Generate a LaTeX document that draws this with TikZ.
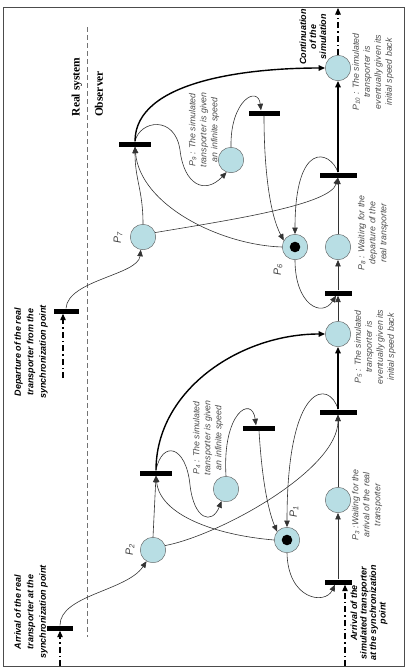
\documentclass[tikz,border=0pt]{standalone}
\usepackage{fontspec}
\setmainfont{Liberation Sans}
\newfontfamily\sidefont{Liberation Serif}
\usetikzlibrary{arrows.meta}
\definecolor{placeblue}{RGB}{184,222,228}
\newcommand{\Pn}[1]{P\textsubscript{#1}}

\begin{document}
\begin{tikzpicture}[x=1pt, y=-1pt,
    place/.style={circle, draw=black!65, fill=placeblue, minimum size=25.5pt, inner sep=0pt},
    marked/.style={path picture={\fill[black] (path picture bounding box.center) circle (5.3pt);}},
    trans/.style={fill=black, minimum width=32pt, minimum height=5pt, inner sep=0pt},
    flow/.style={-{Triangle[length=6.5pt, width=5.5pt]}, line width=0.6pt, draw=black!80},
    heavy/.style={flow, line width=1.4pt, draw=black},
    ext/.style={flow, line width=1.1pt, draw=black, dash pattern=on 6pt off 3pt on 1.5pt off 3pt},
    plabel/.style={rotate=90, font=\fontsize{8.8}{11}\selectfont\itshape, text=black!70, align=center, inner sep=0pt},
    event/.style={rotate=90, font=\fontsize{9}{12.5}\selectfont\bfseries\itshape, align=center, inner sep=0pt},
    pname/.style={rotate=90, font=\fontsize{10.5}{11}\selectfont\itshape, text=black!75, inner sep=0pt}
  ]
    \useasboundingbox (0,0) rectangle (406,667);
    \draw[black!70, line width=1pt] (3,7) rectangle (404.5,666);
    \draw[black!55, dash pattern=on 5pt off 3pt, line width=0.6pt] (87,27) -- (87,637);

    \node[rotate=90, font=\sidefont\fontsize{11.5}{12}\selectfont\bfseries] (real) at (77,87) {Real system};
    \node[rotate=90, font=\sidefont\fontsize{11.5}{12}\selectfont\bfseries] (obs) at (99,94) {Observer};

    \node[place] (p10) at (338,68) {};
    \node[place] (p9) at (231,160) {};
    \node[place] (p7) at (143,237) {};
    \node[place, marked] (p6) at (295,247) {};
    \node[place] (p8) at (338,247) {};
    \node[place] (p5) at (338,334) {};
    \node[place] (p4) at (226,489) {};
    \node[place] (p3) at (338,500) {};
    \node[place] (p2) at (153,550) {};
    \node[place, marked] (p1) at (287,540) {};

    \node[trans] (t9) at (135,144) {};
    \node[trans, minimum width=31pt] (t10) at (264,113) {};
    \node[trans, minimum width=37pt] (t11) at (338,175) {};
    \node[trans, minimum width=27pt] (t8) at (338,293) {};
    \node[trans, minimum width=25pt] (t7) at (66,311) {};
    \node[trans] (t4) at (156,473) {};
    \node[trans] (t5) at (259,428) {};
    \node[trans, minimum width=37pt] (t6) at (338,412) {};
    \node[trans, minimum width=27pt] (t3) at (338,582) {};
    \node[trans, minimum width=26pt] (t1) at (60,628) {};

    \coordinate (inreal) at (60,666);
    \coordinate (insim) at (345,666);
    \coordinate (indep) at (63,378);
    \coordinate (out) at (338,8);

    \node[pname] (n7) at (118,238) {\Pn{7}};
    \node[pname] (n6) at (278,270) {\Pn{6}};
    \node[pname] (n2) at (130,550) {\Pn{2}};
    \node[pname] (n1) at (294,512) {\Pn{1}};

    \node[plabel] (d10) at (373,72) {\Pn{10} : The simulated\\transporter is\\eventually given its\\initial speed back};
    \node[plabel] (d9) at (204,130) {\Pn{9} : The simulated\\transporter is given\\an infinite speed};
    \node[plabel] (d8) at (373,233) {\Pn{8} : Waiting for the\\departure of the\\real transporter};
    \node[plabel] (d5) at (375,347) {\Pn{5} : The simulated\\transporter is\\eventually given its\\initial speed back};
    \node[plabel] (d4) at (208,438) {\Pn{4} : The simulated\\transporter is given\\an infinite speed};
    \node[plabel] (d3) at (367,505) {\Pn{3} :Waiting for the\\arrival of the real\\transporter};

    \node[event, font=\fontsize{9}{10}\selectfont\bfseries\itshape] (cont) at (313,37) {Continuation\\of the\\simulation};
    \node[event] (dep) at (31,352) {Departure of the real\\transporter from the\\synchronization point};
    \node[event] (arrreal) at (31,612) {Arrival of the real\\transporter at the\\synchronization point};
    \node[event, font=\fontsize{9}{9.5}\selectfont\bfseries\itshape] (arrsim) at (369,613) {Arrival of the\\simulated transporter\\at the synchronization\\point};

    \draw[ext] (inreal) -- (t1.south);
    \draw[flow] (t1.north) .. controls (60,595) and (127,591) .. (p2.240);
    \draw[flow] (p2.north) -- (t4.south);
    \draw[flow] (p1.west) .. controls (215,535) and (160,515) .. (t4.south);
    \draw[flow] (t4.north) .. controls (162,440) and (186,445) .. (190,485) .. controls (194,520) and (212,525) .. (p4.250);
    \draw[heavy] (t4.north) .. controls (156,390) and (240,334) .. (p5.west);
    \draw[flow] (p4.north) .. controls (222,412) and (252,395) .. ([xshift=-3pt]t5.north);
    \draw[flow] (t5.south) .. controls (262,480) and (268,510) .. (p1.140);
    \draw[flow] (t6.north) .. controls (330,380) and (287,380) .. (p1.north);
    \draw[flow] (p2.20) .. controls (220,535) and (338,470) .. (t6.south);
    \draw[flow] (p3.north) -- (t6.south);
    \draw[heavy] (t6.north) -- (p5.south);
    \draw[flow] (p1.south) .. controls (288,600) and (325,605) .. ([xshift=-3pt]t3.south);
    \draw[ext] (insim) -- (insim |- t3.south);
    \draw[flow] (t3.north) -- (p3.south);

    \draw[ext] (indep) -- (indep |- t7.south);
    \draw[flow] (t7.north) .. controls (68,280) and (138,275) .. (p7.260);
    \draw[flow] (p7.north) .. controls (143,190) and (135,180) .. (t9.south);
    \draw[flow] (p6.west) .. controls (220,245) and (140,205) .. (t9.south);
    \draw[flow] (t9.north) .. controls (140,120) and (175,115) .. (180,150) .. controls (184,185) and (205,195) .. (p9.250);
    \draw[heavy] (t9.north) .. controls (135,80) and (250,68) .. (p10.west);
    \draw[flow] (p9.north) .. controls (230,100) and (258,85) .. ([xshift=-3pt]t10.north);
    \draw[flow] (t10.south) .. controls (264,170) and (270,215) .. (p6.150);
    \draw[flow] (t11.north) .. controls (330,150) and (295,140) .. (p6.north);
    \draw[flow] (p7.20) .. controls (230,220) and (330,205) .. (t11.south);
    \draw[flow] (p8.north) -- (t11.south);
    \draw[heavy] (t11.north) -- (p10.south);
    \draw[ext] (p10.north) -- (out);
    \draw[flow] (p6.south) .. controls (295,305) and (322,318) .. ([xshift=-2pt]t8.south);
    \draw[flow] (p5.north) -- (t8.south);
    \draw[flow] (t8.north) -- (p8.south);
\end{tikzpicture}
\end{document}
